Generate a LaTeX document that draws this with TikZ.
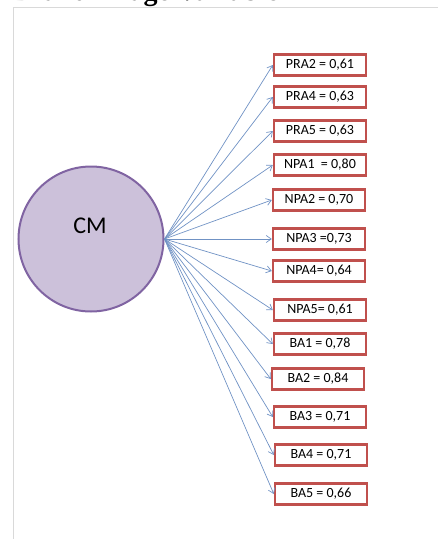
\documentclass[tikz,border=0pt]{standalone}
\usepackage{fontspec}
\setmainfont{Carlito}
\newfontfamily\titlefont{Liberation Serif}
\usetikzlibrary{arrows.meta}
\definecolor{cmfill}{HTML}{CCC1DA}
\definecolor{cmline}{HTML}{8064A2}
\definecolor{boxline}{HTML}{C0504D}
\definecolor{arrowline}{HTML}{7092C4}
\definecolor{frameline}{HTML}{D9D9D9}

\begin{document}
\begin{tikzpicture}[x=1pt,y=-1pt]

        \useasboundingbox (0,0) rectangle (438,539);
        \clip (0,0) rectangle (438,539);

        \draw[frameline, line width=1pt] (13,539) -- (13,7) -- (438,7);
        \node[anchor=base west, inner sep=0pt, font=\titlefont\bfseries\fontsize{28}{30}\selectfont] (title) at (12,0.3) {Brand Image Variable};

        \node[circle, draw=cmline, fill=cmfill, line width=2pt, minimum size=145pt] (cm) at (91,239) {};
        \node[font=\fontsize{24}{28}\selectfont] (cmtext) at (90,226) {CM};

        \begin{scope}[every node/.style={rectangle, draw=boxline, fill=white, line width=2.4pt,
            minimum width=92pt, minimum height=21pt, inner xsep=3pt, inner ysep=0pt, font=\fontsize{14}{16}\selectfont}]
          \node (pra2) at (320,65)  {PRA2 = 0,61};
          \node (pra4) at (320,97)  {PRA4 = 0,63};
          \node (pra5) at (320,131) {PRA5 = 0,63};
          \node (npa1) at (320,165) {NPA1\ \ = 0,80};
          \node (npa2) at (319,200) {NPA2 = 0,70};
          \node (npa3) at (319,239) {NPA3 =0,73};
          \node (npa4) at (319,271) {NPA4= 0,64};
          \node (npa5) at (320,310) {NPA5= 0,61};
          \node (ba1)  at (320,344) {BA1 = 0,78};
          \node (ba2)  at (318,379) {BA2 = 0,84};
          \node (ba3)  at (320,417) {BA3 = 0,71};
          \node (ba4)  at (321,455) {BA4 = 0,71};
          \node (ba5)  at (321,494) {BA5 = 0,66};
        \end{scope}

        \begin{scope}[every edge/.style={draw=arrowline, line width=0.7pt, -{Straight Barb[length=5pt,width=7pt]}}]
          \path (cm.east) edge (pra2.west);
          \path (cm.east) edge (pra4.west);
          \path (cm.east) edge (pra5.west);
          \path (cm.east) edge (npa1.west);
          \path (cm.east) edge (npa2.west);
          \path (cm.east) edge (npa3.west);
          \path (cm.east) edge (npa4.west);
          \path (cm.east) edge (npa5.west);
          \path (cm.east) edge (ba1.west);
          \path (cm.east) edge (ba2.west);
          \path (cm.east) edge (ba3.west);
          \path (cm.east) edge (ba4.west);
          \path (cm.east) edge (ba5.west);
        \end{scope}

      \end{tikzpicture}
\end{document}
